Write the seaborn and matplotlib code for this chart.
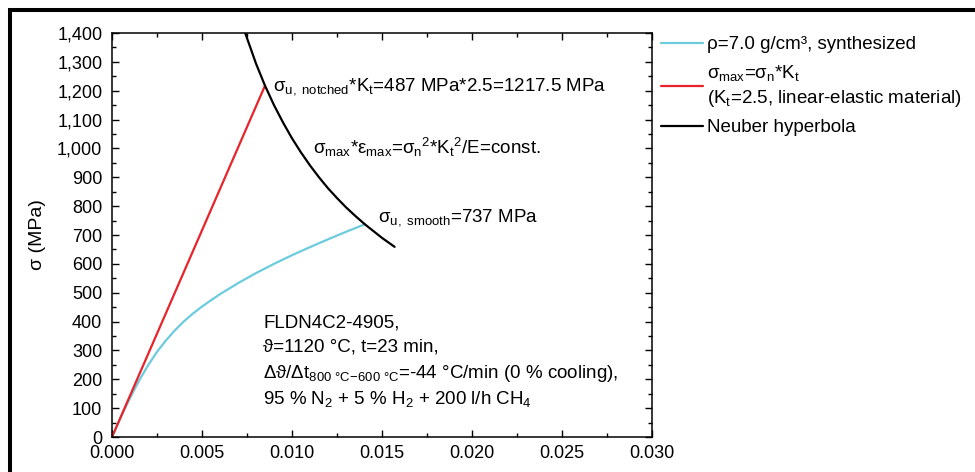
import matplotlib
matplotlib.use("Agg")
import matplotlib.pyplot as plt
from matplotlib.lines import Line2D
from matplotlib.ticker import MultipleLocator, FuncFormatter
import seaborn as sns

# ---- data ----
strain_synth = [0, 0.0005, 0.0010, 0.0015, 0.0020, 0.0025, 0.0030, 0.0035, 0.0040,
                0.0045, 0.0050, 0.0055, 0.0060, 0.0070, 0.0080, 0.0090, 0.0100,
                0.0110, 0.0120, 0.0130, 0.0140, 0.01405]
stress_synth = [0, 70, 135, 195, 248, 295, 335, 370, 401,
                428, 452, 474, 495, 533, 568, 600, 630,
                658, 685, 711, 736, 737]

strain_linear = [0.0, 0.0085]
stress_linear = [0.0, 1217.5]

strain_neuber = [0.0074, 0.0080, 0.0085, 0.0090, 0.0095, 0.0100, 0.0105, 0.0110,
                 0.0115, 0.0120, 0.0125, 0.0130, 0.0135, 0.01405, 0.0150, 0.0157]
stress_neuber = [1400, 1294, 1217.5, 1150, 1090, 1035, 986, 941,
                 900, 862, 828, 796, 767, 737, 690, 659]

legend_labels = [
    "ρ=7.0 g/cm³, synthesized",
    "σ$_{\\mathregular{max}}$=σ$_{\\mathregular{n}}$*K$_{\\mathregular{t}}$\n"
    "(K$_{\\mathregular{t}}$=2.5, linear-elastic material)",
    "Neuber hyperbola",
]

sns.set_theme(style="ticks")
plt.rcParams["font.family"] = ["Liberation Sans", "DejaVu Sans"]
plt.rcParams["mathtext.fontset"] = "custom"
plt.rcParams["mathtext.rm"] = "Liberation Sans"
plt.rcParams["mathtext.it"] = "Liberation Sans:italic"
plt.rcParams["mathtext.bf"] = "Liberation Sans:bold"
for k in ["text.color", "axes.labelcolor", "xtick.color", "ytick.color",
          "axes.edgecolor"]:
    plt.rcParams[k] = "black"

W, H = 975, 472
fig = plt.figure(figsize=(W / 100, H / 100), dpi=100)
ax = fig.add_axes([112 / W, 1 - 437 / H, 540 / W, 404 / H])

cyan = "#6CCBDC"
red = "#E8232A"

sns.lineplot(x=strain_synth, y=stress_synth, ax=ax, color=cyan, lw=1.6,
             sort=False, label=legend_labels[0])
sns.lineplot(x=strain_linear, y=stress_linear, ax=ax, color=red, lw=1.6,
             sort=False, label=legend_labels[1])
sns.lineplot(x=strain_neuber, y=stress_neuber, ax=ax, color="black", lw=1.6,
             sort=False, label=legend_labels[2])

ax.set_xlim(0, 0.030)
ax.set_ylim(0, 1400)
ax.xaxis.set_major_locator(MultipleLocator(0.005))
ax.xaxis.set_minor_locator(MultipleLocator(0.0025))
ax.yaxis.set_major_locator(MultipleLocator(100))
ax.yaxis.set_minor_locator(MultipleLocator(50))
ax.xaxis.set_major_formatter(FuncFormatter(lambda v, p: f"{v:.3f}"))
ax.yaxis.set_major_formatter(FuncFormatter(lambda v, p: f"{v:,.0f}"))
ax.tick_params(which="both", direction="in", top=True, right=True,
               colors="black", labelsize=13, width=1.0)
ax.tick_params(which="major", length=5)
ax.tick_params(which="minor", length=3)
ax.tick_params(axis="x", pad=6)
ax.tick_params(axis="y", pad=7)
for s in ax.spines.values():
    s.set_linewidth(1.1)
    s.set_color("black")
ax.set_xlabel("")
ax.set_ylabel("σ (MPa)", fontsize=14, labelpad=8)

fs = 13.5
ax.text(0.00894, 1202,
        "σ$_{\\mathregular{u,\\ notched}}$*K$_{\\mathregular{t}}$=487 MPa*2.5=1217.5 MPa",
        fontsize=fs, va="baseline", ha="left")
ax.text(0.01117, 981,
        "σ$_{\\mathregular{max}}$*ε$_{\\mathregular{max}}$=σ$_{\\mathregular{n}}$"
        "$^{\\mathregular{2}}$*K$_{\\mathregular{t}}$$^{\\mathregular{2}}$/E=const.",
        fontsize=fs, va="baseline", ha="left")
ax.text(0.01478, 748, "σ$_{\\mathregular{u,\\ smooth}}$=737 MPa",
        fontsize=fs, va="baseline", ha="left")

block = [
    "FLDN4C2-4905,",
    "ϑ=1120 °C, t=23 min,",
    "Δϑ/Δt$_{\\mathregular{800\\ °C\\!-\\!600\\ °C}}$=-44 °C/min (0 % cooling),",
    "95 % N$_{\\mathregular{2}}$ + 5 % H$_{\\mathregular{2}}$ + 200 l/h CH$_{\\mathregular{4}}$",
]
block_y = [381, 295, 204, 114]
for txt, yy in zip(block, block_y):
    ax.text(0.00839, yy, txt, fontsize=fs, va="baseline", ha="left")

leg = ax.legend(loc="upper left", bbox_to_anchor=(661 / W, 1 - 36 / H),
                bbox_transform=fig.transFigure, frameon=False, fontsize=fs,
                borderpad=0, borderaxespad=0, handlelength=2.25,
                handletextpad=0.2, labelspacing=0.55)
for t in leg.get_texts():
    t.set_linespacing(1.3)

# outer black frame (left and top edges)
fig.add_artist(Line2D([10 / W, 10 / W, 1.0], [0.0, 1 - 10 / H, 1 - 10 / H],
                      transform=fig.transFigure, color="black", lw=2.9,
                      solid_joinstyle="miter"))

fig.savefig("out.png", dpi=100)
